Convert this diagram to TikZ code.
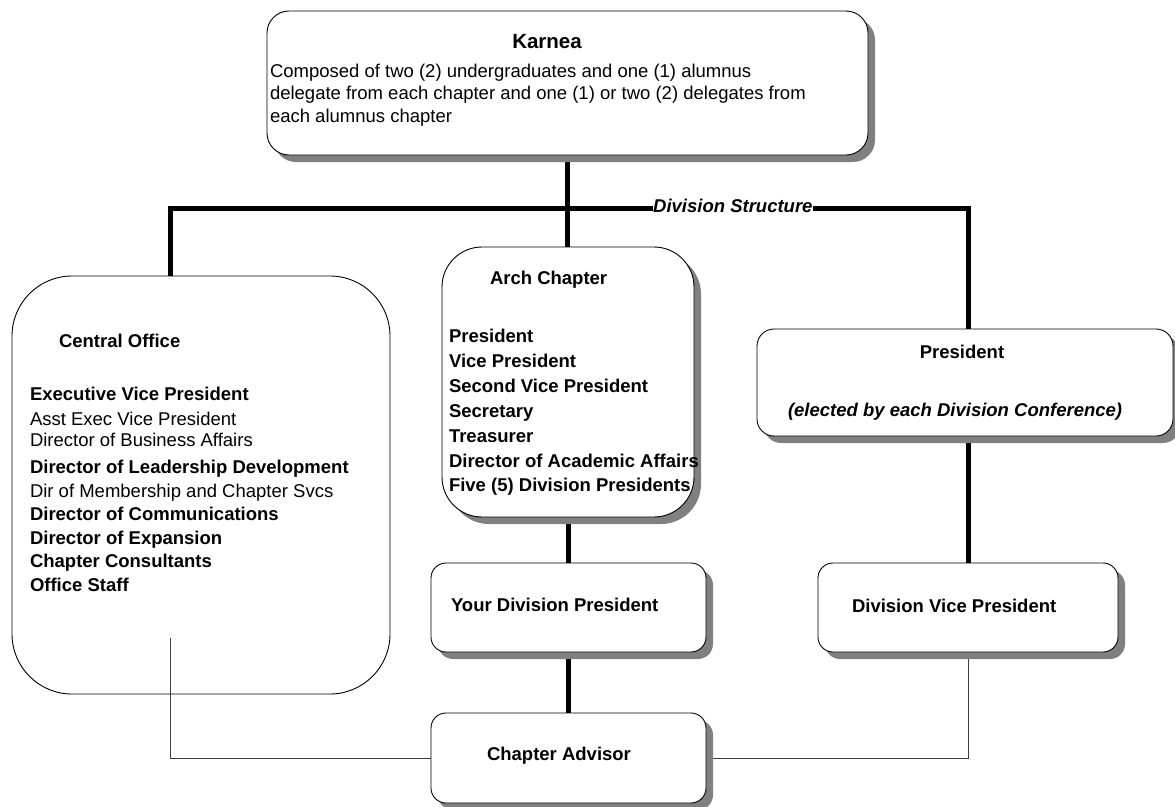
\documentclass[tikz,border=0pt]{standalone}
\usepackage{fontspec}
\setmainfont{Liberation Sans}
\usetikzlibrary{shadows,backgrounds}
\definecolor{shadowgray}{RGB}{128,128,128}
\definecolor{thingray}{RGB}{60,60,60}
\newcommand\nfs{\fontsize{18.5}{24}\selectfont}
\begin{document}
\begin{tikzpicture}[x=1pt,y=-1pt,
  boxbase/.style={draw=black, line width=0.9pt, fill=white, inner sep=0pt, outer sep=0pt},
  shbox/.style={boxbase, drop shadow={shadow xshift=7pt, shadow yshift=-7pt, fill=shadowgray, opacity=1}},
  txt/.style={inner sep=0pt, outer sep=0pt, anchor=base west, font=\nfs},
  btxt/.style={txt, font=\nfs\bfseries},
  thickline/.style={line width=5pt, black},
  thinline/.style={line width=0.9pt, thingray}]
\useasboundingbox (0,0) rectangle (1175,806);

% boxes
\node[shbox, rounded corners=22pt, minimum width=601pt, minimum height=144pt] (karnea) at (567.5,83) {};
\node[boxbase, rounded corners=60pt, minimum width=378pt, minimum height=418pt] (central) at (201,485) {};
\node[shbox, rounded corners=40pt, minimum width=252pt, minimum height=270pt] (arch) at (568,382) {};
\node[shbox, rounded corners=17pt, minimum width=416pt, minimum height=107pt] (pres) at (965,382.5) {};
\node[shbox, rounded corners=15pt, minimum width=275pt, minimum height=89pt] (ydp) at (568.5,607.5) {};
\node[shbox, rounded corners=15pt, minimum width=300pt, minimum height=89pt] (dvp) at (968,607.5) {};
\node[shbox, rounded corners=15pt, minimum width=275pt, minimum height=90pt] (advisor) at (568.5,758) {};

% named points of the bus and the free end inside Central Office
\coordinate (busL) at (170,208);
\coordinate (busR) at (968,208);
\coordinate (cofoot) at (170,638);

% connectors behind the boxes
\begin{scope}[on background layer]
  \draw[thickline] (karnea.south) -- (karnea.south |- arch.north);
  \draw[thickline] (busL |- central.north) -- (busL) -- (busR) -- (busR |- pres.north);
  \draw[thickline] (ydp.north |- arch.south) -- (ydp.north);
  \draw[thickline] (ydp.south) -- (advisor.north);
  \draw[thickline] (dvp.north |- pres.south) -- (dvp.north);
  \draw[thinline] (dvp.south) |- (advisor.east);
\end{scope}

% thin connector that starts inside Central Office
\draw[thinline] (cofoot) |- (advisor.west);

% Division Structure label
\node[inner sep=0pt, fill=white, anchor=base west, font=\nfs\bfseries\itshape] (divs) at (653,212) {Division Structure};

% Karnea text
\node[inner sep=0pt, anchor=base, font=\fontsize{20.5}{24}\selectfont\bfseries] (kt) at (547,48) {Karnea};
\node[txt] (k1) at (270,77) {Composed of two (2) undergraduates and one (1) alumnus};
\node[txt] (k2) at (270,99) {delegate from each chapter and one (1) or two (2) delegates from};
\node[txt] (k3) at (270,122) {each alumnus chapter};

% Central Office text
\node[btxt] (cot) at (59,347) {Central Office};
\node[btxt] (co1) at (30,400) {Executive Vice President};
\node[txt]  (co2) at (30,425) {Asst Exec Vice President};
\node[txt]  (co3) at (30,446) {Director of Business Affairs};
\node[btxt] (co4) at (30,473) {Director of Leadership Development};
\node[txt]  (co5) at (30,497) {Dir of Membership and Chapter Svcs};
\node[btxt] (co6) at (30,520) {Director of Communications};
\node[btxt] (co7) at (30,544) {Director of Expansion};
\node[btxt] (co8) at (30,567) {Chapter Consultants};
\node[btxt] (co9) at (30,591) {Office Staff};

% Arch Chapter text
\node[btxt] (act) at (490,284) {Arch Chapter};
\node[btxt] (ac1) at (449,342) {President};
\node[btxt] (ac2) at (449,367) {Vice President};
\node[btxt] (ac3) at (449,392) {Second Vice President};
\node[btxt] (ac4) at (449,417) {Secretary};
\node[btxt] (ac5) at (449,442) {Treasurer};
\node[btxt] (ac6) at (449,467) {Director of Academic Affairs};
\node[btxt] (ac7) at (449,491) {Five (5) Division Presidents};

% President text
\node[inner sep=0pt, anchor=base, font=\nfs\bfseries] (pt) at (962,358) {President};
\node[btxt, font=\nfs\bfseries\itshape] (pt2) at (788,416) {(elected by each Division Conference)};

% other texts
\node[btxt] (ydpt) at (451,611) {Your Division President};
\node[btxt] (dvpt) at (852,612) {Division Vice President};
\node[inner sep=0pt, anchor=base, font=\nfs\bfseries] (cat) at (559,760) {Chapter Advisor};
\end{tikzpicture}
\end{document}
